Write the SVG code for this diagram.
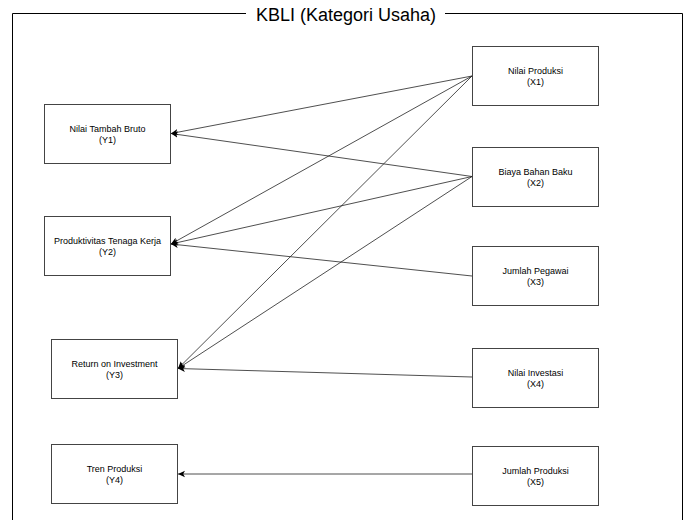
<svg xmlns="http://www.w3.org/2000/svg" width="686" height="520" viewBox="0 0 686 520">
<style>
.bg{fill:#ffffff}
.frame{fill:none;stroke:#000;stroke-width:1}
.title{font-family:"Liberation Sans",Arial,sans-serif;font-size:18px;fill:#000;text-anchor:middle}
.box{fill:#fff;stroke:#444;stroke-width:1}
.lbl{font-family:"Liberation Sans",Arial,sans-serif;font-size:9px;fill:#000;text-anchor:middle}
.edge{fill:none;stroke:#222;stroke-width:0.8}
</style>
<defs>
<marker id="arr" markerUnits="userSpaceOnUse" markerWidth="8" markerHeight="8" viewBox="0 0 8 8" refX="7" refY="4" orient="auto">
<path d="M0,0.8 L7,4 L0,7.2 L1.8,4 z" fill="#000"/>
</marker>
</defs>
<rect class="bg" x="0" y="0" width="686" height="520"/>
<g id="frame">
<path class="frame" d="M246,13.5 H12.5 V521 M445,13.5 H682.5 V521"/>
<text class="title" x="346" y="21">KBLI (Kategori Usaha)</text>
</g>
<g id="connectors">
<line class="edge" x1="472" y1="76" x2="171" y2="133.5" marker-end="url(#arr)"/>
<line class="edge" x1="472" y1="76" x2="171" y2="244" marker-end="url(#arr)"/>
<line class="edge" x1="472" y1="76" x2="178" y2="368.5" marker-end="url(#arr)"/>
<line class="edge" x1="472" y1="176.5" x2="171" y2="133.5" marker-end="url(#arr)"/>
<line class="edge" x1="472" y1="176.5" x2="171" y2="244" marker-end="url(#arr)"/>
<line class="edge" x1="472" y1="176.5" x2="178" y2="368.5" marker-end="url(#arr)"/>
<line class="edge" x1="472" y1="276" x2="171" y2="244" marker-end="url(#arr)"/>
<line class="edge" x1="472" y1="377" x2="178" y2="368.5" marker-end="url(#arr)"/>
<line class="edge" x1="472" y1="474" x2="178" y2="474" marker-end="url(#arr)"/>
</g>
<g id="Y1">
<rect class="box" x="44.5" y="104.5" width="126" height="59"/>
<text class="lbl" x="107.5" y="131.5">Nilai Tambah Bruto</text>
<text class="lbl" x="107.5" y="142.5">(Y1)</text>
</g>
<g id="Y2">
<rect class="box" x="44.5" y="216.5" width="126" height="59"/>
<text class="lbl" x="107.5" y="243.5">Produktivitas Tenaga Kerja</text>
<text class="lbl" x="107.5" y="254.5">(Y2)</text>
</g>
<g id="Y3">
<rect class="box" x="51.5" y="339.5" width="126" height="59"/>
<text class="lbl" x="114.5" y="366.5">Return on Investment</text>
<text class="lbl" x="114.5" y="377.5">(Y3)</text>
</g>
<g id="Y4">
<rect class="box" x="51.5" y="444.5" width="126" height="59"/>
<text class="lbl" x="114.5" y="471.5">Tren Produksi</text>
<text class="lbl" x="114.5" y="482.5">(Y4)</text>
</g>
<g id="X1">
<rect class="box" x="472.5" y="46.5" width="126" height="59"/>
<text class="lbl" x="535.5" y="73.5">Nilai Produksi</text>
<text class="lbl" x="535.5" y="84.5">(X1)</text>
</g>
<g id="X2">
<rect class="box" x="472.5" y="147.5" width="126" height="59"/>
<text class="lbl" x="535.5" y="174.5">Biaya Bahan Baku</text>
<text class="lbl" x="535.5" y="185.5">(X2)</text>
</g>
<g id="X3">
<rect class="box" x="472.5" y="246.5" width="126" height="59"/>
<text class="lbl" x="535.5" y="273.5">Jumlah Pegawai</text>
<text class="lbl" x="535.5" y="284.5">(X3)</text>
</g>
<g id="X4">
<rect class="box" x="472.5" y="348.5" width="126" height="59"/>
<text class="lbl" x="535.5" y="375.5">Nilai Investasi</text>
<text class="lbl" x="535.5" y="386.5">(X4)</text>
</g>
<g id="X5">
<rect class="box" x="472.5" y="446.5" width="126" height="59"/>
<text class="lbl" x="535.5" y="473.5">Jumlah Produksi</text>
<text class="lbl" x="535.5" y="484.5">(X5)</text>
</g>
</svg>
